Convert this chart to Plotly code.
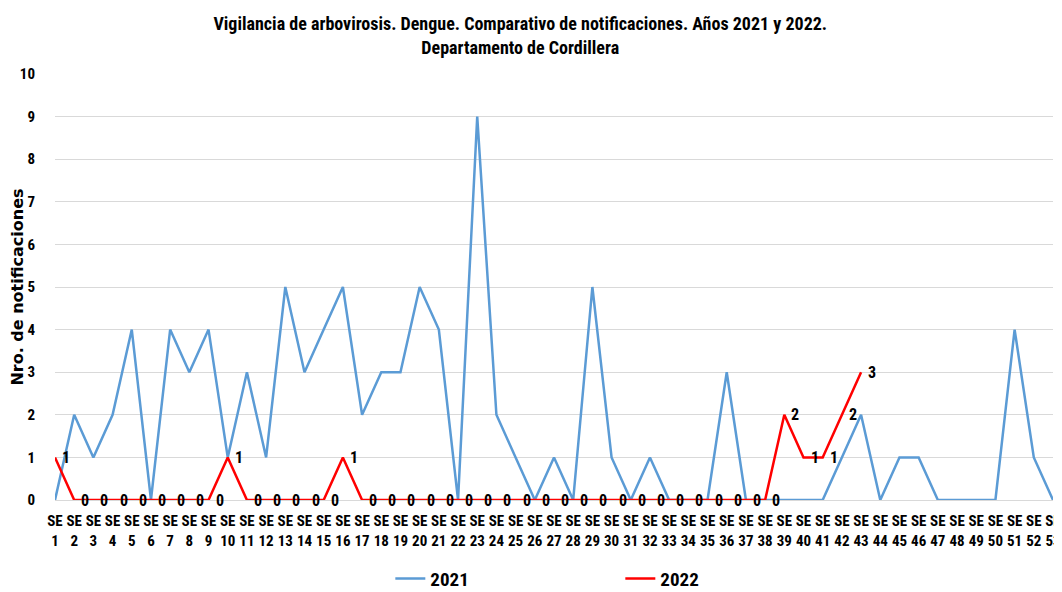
import plotly.graph_objects as go

weeks = list(range(1, 54))
week_labels = [f"SE<br>{w}" for w in weeks]
y2021 = [0, 2, 1, 2, 4, 0, 4, 3, 4, 1, 3, 1, 5, 3, 4, 5, 2, 3, 3, 5, 4, 0, 9, 2, 1, 0, 1, 0, 5, 1,
         0, 1, 0, 0, 0, 3, 0, 0, 0, 0, 0, 1, 2, 0, 1, 1, 0, 0, 0, 0, 4, 1, 0]
y2022 = [1, 0, 0, 0, 0, 0, 0, 0, 0, 1, 0, 0, 0, 0, 0, 1, 0, 0, 0, 0, 0, 0, 0, 0, 0, 0, 0, 0, 0, 0,
         0, 0, 0, 0, 0, 0, 0, 0, 2, 1, 1, 2, 3]
yticks = list(range(0, 11))

FONT = "Roboto Condensed, Liberation Sans, sans-serif"

fig = go.Figure()
fig.add_trace(go.Scatter(
    x=weeks, y=y2021, mode="lines", name="2021",
    line=dict(color="#5B9BD5", width=2.5),
))
fig.add_trace(go.Scatter(
    x=weeks[:len(y2022)], y=y2022, mode="lines", name="2022",
    line=dict(color="#FF0000", width=2.5),
))
for wk, v in zip(weeks, y2022):
    fig.add_annotation(
        x=wk, y=v, text=str(v), showarrow=False,
        xanchor="left", yanchor="middle", xshift=5,
        font=dict(family=FONT, size=16, color="black", weight="bold"),
    )

# The page has an 8px body margin, so the figure is 1054x584 and shifted by 8px.
fig.update_layout(
    width=1054, height=584,
    paper_bgcolor="white", plot_bgcolor="white",
    margin=dict(l=47, r=9, t=66, b=92, autoexpand=False),
    title=dict(
        text="Vigilancia de arbovirosis. Dengue. Comparativo de notificaciones. Años 2021 y 2022.<br>Departamento de Cordillera",
        x=0.486, xanchor="center", xref="container",
        y=0.962, yanchor="top", yref="container",
        font=dict(family=FONT, size=18, color="black", weight="bold"),
    ),
    showlegend=True,
    legend=dict(
        orientation="h", x=0.336, xanchor="left", y=-0.14, yanchor="top",
        font=dict(family=FONT, size=19, color="black", weight="bold"),
        entrywidth=185, entrywidthmode="pixels",
        bgcolor="rgba(0,0,0,0)",
    ),
)
fig.update_xaxes(
    range=[1, 53], tickvals=weeks, ticktext=week_labels, automargin=False,
    showgrid=False, zeroline=False, showline=False,
    ticks="outside", ticklen=7, tickcolor="rgba(0,0,0,0)",
    tickfont=dict(family=FONT, size=15, color="black", weight="bold"),
    tickangle=0,
)
fig.update_yaxes(
    range=[0, 10], tickvals=yticks, automargin=False,
    showgrid=True, gridcolor="#D9D9D9", gridwidth=1,
    zeroline=True, zerolinecolor="#D9D9D9", zerolinewidth=1,
    ticks="outside", ticklen=16, tickcolor="rgba(0,0,0,0)",
    tickfont=dict(family=FONT, size=15, color="black", weight="bold"),
    title=dict(text="Nro. de notificaciones", standoff=2,
               font=dict(family="DejaVu Sans", size=16, color="black", weight="bold")),
)

fig.write_html("out.html")
